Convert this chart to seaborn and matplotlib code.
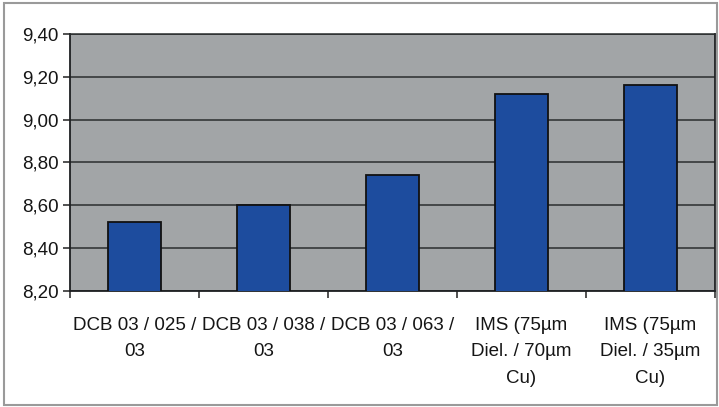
import matplotlib
matplotlib.use("Agg")
import matplotlib.pyplot as plt
from matplotlib.patches import Rectangle
from matplotlib.ticker import FixedLocator, FuncFormatter
import seaborn as sns
import pandas as pd

categories = [
    "DCB 03 / 025 /\n03",
    "DCB 03 / 038 /\n03",
    "DCB 03 / 063 /\n03",
    "IMS (75µm\nDiel. / 70µm\nCu)",
    "IMS (75µm\nDiel. / 35µm\nCu)",
]
values = [8.52, 8.60, 8.74, 9.12, 9.16]
y_ticks = [8.20, 8.40, 8.60, 8.80, 9.00, 9.20, 9.40]

df = pd.DataFrame({"sample": categories, "value": values})

sns.set_style("white")
plt.rcParams["font.family"] = ["Liberation Sans", "DejaVu Sans"]

fig = plt.figure(figsize=(7.19, 4.07), dpi=100)
ax = fig.add_axes([70 / 719, 1 - 291 / 407, 645 / 719, 257 / 407])
ax.set_facecolor("#a2a5a7")

sns.barplot(data=df, x="sample", y="value", color="#1d4c9e", saturation=1,
            width=0.41, edgecolor="#111111", linewidth=1.3, ax=ax, zorder=3)

ax.set_ylim(8.20, 9.40)
ax.set_xlim(-0.5, len(categories) - 0.5)
ax.yaxis.set_major_locator(FixedLocator(y_ticks))
ax.yaxis.set_major_formatter(FuncFormatter(lambda v, p: f"{v:.2f}".replace(".", ",")))
ax.grid(axis="y", color="#2a2d2e", linewidth=1.1, zorder=1)
ax.set_axisbelow(True)

ax.set_xlabel("")
ax.set_ylabel("")

# category labels centred under bars, tick marks at the category boundaries
ax.tick_params(axis="x", which="major", length=0, pad=19, labelsize=13.5,
               labelcolor="#151515")
for lbl in ax.get_xticklabels():
    lbl.set_linespacing(1.7)
ax.set_xticks([i + 0.5 for i in range(-1, len(categories))], minor=True)
ax.tick_params(axis="x", which="minor", length=5, width=1.1, color="#222222",
               direction="out", bottom=True)
ax.tick_params(axis="y", length=5, width=1.1, color="#222222", left=True,
               labelsize=13.5, labelcolor="#151515", pad=3)

for side in ["left", "bottom", "right"]:
    ax.spines[side].set_visible(True)
    ax.spines[side].set_color("#1e2022")
    ax.spines[side].set_linewidth(1.3)
ax.spines["top"].set_visible(True)
ax.spines["top"].set_color("#2a2d2e")
ax.spines["top"].set_linewidth(1.1)

# outer frame of the chart
fig.patches.append(Rectangle((4 / 719, 2 / 407), 713 / 719, 402 / 407,
                             transform=fig.transFigure, fill=False,
                             edgecolor="#9a9a9a", linewidth=1.5))

fig.savefig("out.png", dpi=100)
